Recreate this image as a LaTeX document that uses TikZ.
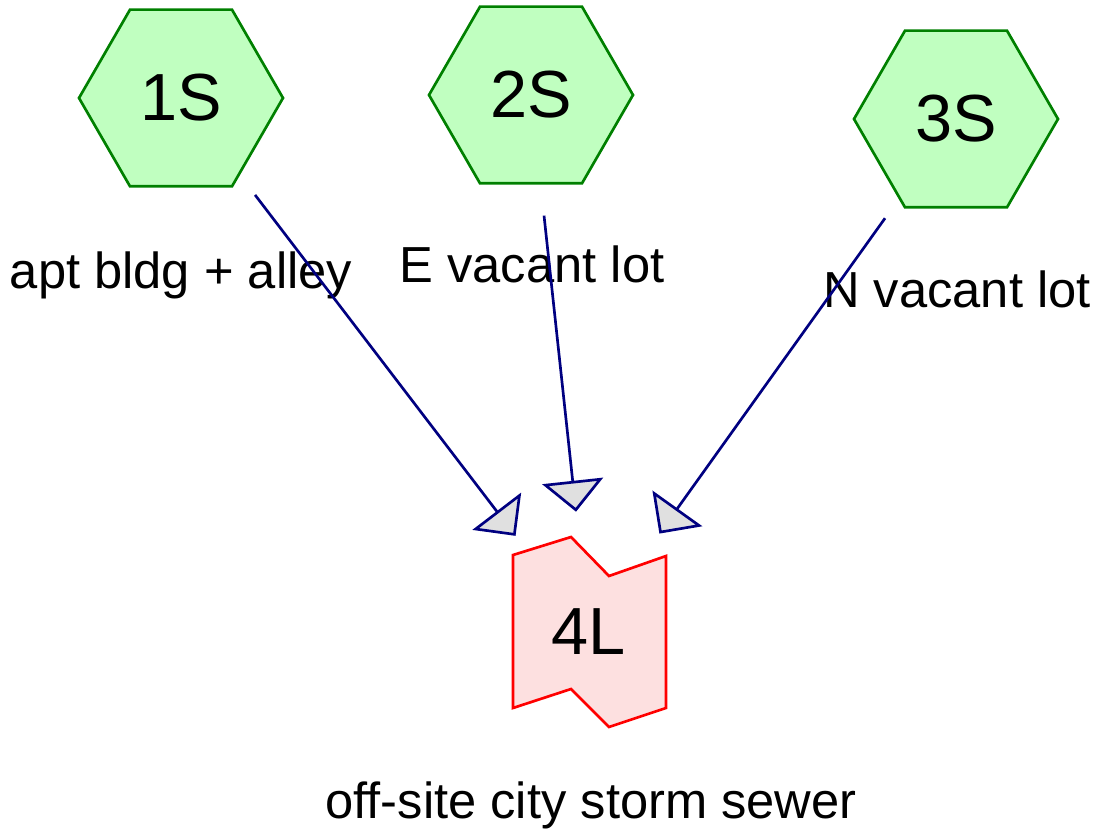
\documentclass[tikz,border=0pt]{standalone}
\usepackage{fontspec}
\setmainfont{Liberation Sans}
\usetikzlibrary{shapes.geometric,arrows.meta,calc}
\definecolor{hexfill}{RGB}{192,255,192}
\definecolor{hexline}{RGB}{0,128,0}
\definecolor{lfill}{RGB}{253,224,224}
\definecolor{lline}{RGB}{255,0,0}
\definecolor{arrline}{RGB}{0,0,128}
\definecolor{arrfill}{RGB}{224,224,224}
\tikzset{
  hexa/.style={regular polygon, regular polygon sides=6, minimum size=153pt,
    inner sep=0pt, outer sep=0pt, draw=hexline, fill=hexfill, line width=2pt,
    font=\fontsize{50}{58}\selectfont, text=black},
  lnode/.style={circle, minimum size=181.5pt, inner sep=0pt, outer sep=0pt,
    font=\fontsize{50}{58}\selectfont, text=black},
  lbl/.style={anchor=base, inner sep=0pt, font=\fontsize{38}{45}\selectfont, text=black},
  flow/.style={draw=arrline, line width=2pt,
    -{Triangle[width=45.75pt,length=23.25pt,fill=arrfill]}},
}
\begin{document}
\begin{tikzpicture}[x=0.75pt,y=-0.75pt]
\useasboundingbox (0,0) rectangle (1103,834);
% hexagons
\node[hexa] (s1) at (181,98) {\raisebox{-3pt}{1S}};
\node[hexa] (s2) at (531,95) {\raisebox{-3pt}{2S}};
\node[hexa] (s3) at (956,119) {\raisebox{-3pt}{3S}};
% 4L shape
\coordinate (lc) at (589,632);
\filldraw[draw=lline, fill=lfill, line width=2pt, line join=miter]
  ($(lc)+(-76,-77)$) -- ($(lc)+(-18,-95)$) -- ($(lc)+(20,-56)$) -- ($(lc)+(77,-76)$)
  -- ($(lc)+(77,76)$) -- ($(lc)+(20,95)$) -- ($(lc)+(-18,57)$) -- ($(lc)+(-76,76)$) -- cycle;
\node[lnode] (l4) at (lc) {\raisebox{-12pt}{4L}};
% labels
\node[lbl] (t1) at (181,289) {apt bldg + alley};
\node[lbl] (t2) at (532,283) {E vacant lot};
\node[lbl] (t3) at (957,307) {N vacant lot};
\node[lbl] (t4) at (591,818) {off-site city storm sewer};
% connectors
\draw[flow] ($(s1.center)!91.5pt!(l4.center)$) -- (l4);
\draw[flow] ($(s2.center)!91pt!(l4.center)$) -- (l4);
\draw[flow] ($(s3.center)!91.5pt!(l4.center)$) -- (l4);
\end{tikzpicture}
\end{document}
